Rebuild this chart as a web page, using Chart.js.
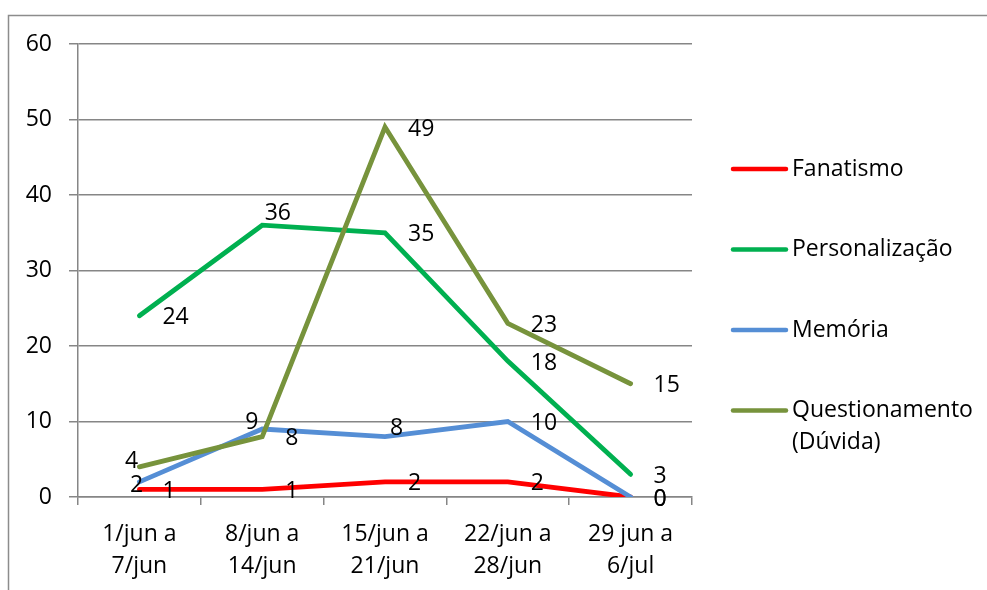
<!DOCTYPE html>
<html>
<head>
<meta charset="utf-8">
<script src="https://cdn.jsdelivr.net/npm/chart.js@4/dist/chart.umd.min.js"></script>
<style>
  html, body { margin: 0; padding: 0; background: #ffffff; }
  #wrap { width: 987px; height: 590px; }
</style>
</head>
<body>
<div id="wrap"><canvas id="c" width="987" height="590"></canvas></div>
<script>
// Weekly counts per category
const periods = [
  ['1/jun a', '7/jun'],
  ['8/jun a', '14/jun'],
  ['15/jun a', '21/jun'],
  ['22/jun a', '28/jun'],
  ['29 jun a', '6/jul']
];
const seriesNames = ['Fanatismo', 'Personalização', 'Memória', 'Questionamento (Dúvida)'];
const fanatismo = [1, 1, 2, 2, 0];
const personalizacao = [24, 36, 35, 18, 3];
const memoria = [2, 9, 8, 10, 0];
const questionamento = [4, 8, 49, 23, 15];
const yTicks = [0, 10, 20, 30, 40, 50, 60];

const seriesColors = ['#FF0000', '#00B050', '#558ED5', '#77933C'];

// Value label placement: default is to the right of the point;
// a few labels are nudged to avoid overlapping lines.
const LABEL_DX = 23, LABEL_DY = 2;
const labelNudges = [
  [null, null, null, null, null],
  [null, [2.5, -12], null, null, null],
  [[-9.5, 4], [-17, -7], [5, -8], null, null],
  [[-14.5, -5.5], null, null, null, null]
];

const FONT = '"Open Sans", "DejaVu Sans", sans-serif';
const FONT_SIZE = 23;
const GRID = '#868686';

const frame = {
  id: 'frame',
  beforeDraw(chart) {
    const ctx = chart.ctx;
    ctx.save();
    ctx.strokeStyle = '#8c8c8c';
    ctx.lineWidth = 1.5;
    ctx.beginPath();
    ctx.moveTo(8.5, 600);
    ctx.lineTo(8.5, 15.5);
    ctx.lineTo(1000, 15.5);
    ctx.stroke();
    ctx.restore();
  }
};

const valueLabels = {
  id: 'valueLabels',
  afterDatasetsDraw(chart) {
    const ctx = chart.ctx;
    ctx.save();
    ctx.font = FONT_SIZE + 'px ' + FONT;
    ctx.fillStyle = '#000000';
    ctx.textBaseline = 'middle';
    ctx.textAlign = 'left';
    chart.data.datasets.forEach((ds, i) => {
      const meta = chart.getDatasetMeta(i);
      meta.data.forEach((pt, j) => {
        const text = String(ds.data[j]);
        const n = labelNudges[i][j];
        const dx = n ? n[0] : LABEL_DX;
        const dy = n ? n[1] : LABEL_DY;
        ctx.fillText(text, pt.x + dx, pt.y + dy);
      });
    });
    ctx.restore();
  }
};

const sideLegend = {
  id: 'sideLegend',
  afterDraw(chart) {
    const ctx = chart.ctx;
    const x0 = 733, x1 = 786, tx = 792, top = 169, step = 80.5, maxW = 195, lh = 32;
    ctx.save();
    ctx.font = FONT_SIZE + 'px ' + FONT;
    ctx.textBaseline = 'middle';
    ctx.textAlign = 'left';
    chart.data.datasets.forEach((ds, i) => {
      const y = top + i * step;
      ctx.strokeStyle = ds.borderColor;
      ctx.lineWidth = 4.5;
      ctx.lineCap = 'round';
      ctx.beginPath();
      ctx.moveTo(x0, y);
      ctx.lineTo(x1, y);
      ctx.stroke();
      // wrap long names by words
      const words = ds.label.split(' ');
      const lines = [];
      let cur = '';
      words.forEach(w => {
        const t = cur ? cur + ' ' + w : w;
        if (cur && ctx.measureText(t).width > maxW) { lines.push(cur); cur = w; }
        else cur = t;
      });
      lines.push(cur);
      ctx.fillStyle = '#000000';
      lines.forEach((ln, k) => ctx.fillText(ln, tx, y + k * lh));
    });
    ctx.restore();
  }
};

const seriesValues = [fanatismo, personalizacao, memoria, questionamento];

new Chart(document.getElementById('c'), {
  type: 'line',
  data: {
    labels: periods,
    datasets: seriesValues.map((vals, i) => ({
      label: seriesNames[i],
      data: vals,
      borderColor: seriesColors[i],
      backgroundColor: seriesColors[i],
      borderWidth: 4.8,
      borderCapStyle: 'round',
      borderJoinStyle: 'miter',
      pointRadius: 0,
      pointHoverRadius: 0,
      tension: 0,
      order: seriesValues.length - i
    }))
  },
  options: {
    responsive: false,
    animation: false,
    layout: { padding: { left: 0, top: 44, right: 295, bottom: 0 } },
    plugins: {
      legend: { display: false },
      tooltip: { enabled: false },
      title: { display: false }
    },
    scales: {
      x: {
        offset: true,
        grid: {
          offset: true,
          drawOnChartArea: false,
          drawTicks: true,
          tickLength: 8,
          color: GRID,
          lineWidth: 1.5
        },
        border: { display: true, color: GRID, width: 1.5 },
        ticks: {
          color: '#000000',
          font: { family: FONT, size: FONT_SIZE, lineHeight: 1.4 },
          padding: 13,
          maxRotation: 0,
          autoSkip: false
        },
        afterFit(scale) { scale.height = 93; }
      },
      y: {
        min: 0,
        max: 60,
        afterBuildTicks(scale) { scale.ticks = yTicks.map(v => ({ value: v })); },
        grid: {
          drawTicks: true,
          tickLength: 9,
          color: GRID,
          lineWidth: 1.5
        },
        border: { display: true, color: GRID, width: 1.5 },
        ticks: {
          color: '#000000',
          font: { family: FONT, size: FONT_SIZE },
          padding: 17
        },
        afterFit(scale) { scale.width = 78; }
      }
    }
  },
  plugins: [frame, valueLabels, sideLegend]
});
</script>
</body>
</html>
